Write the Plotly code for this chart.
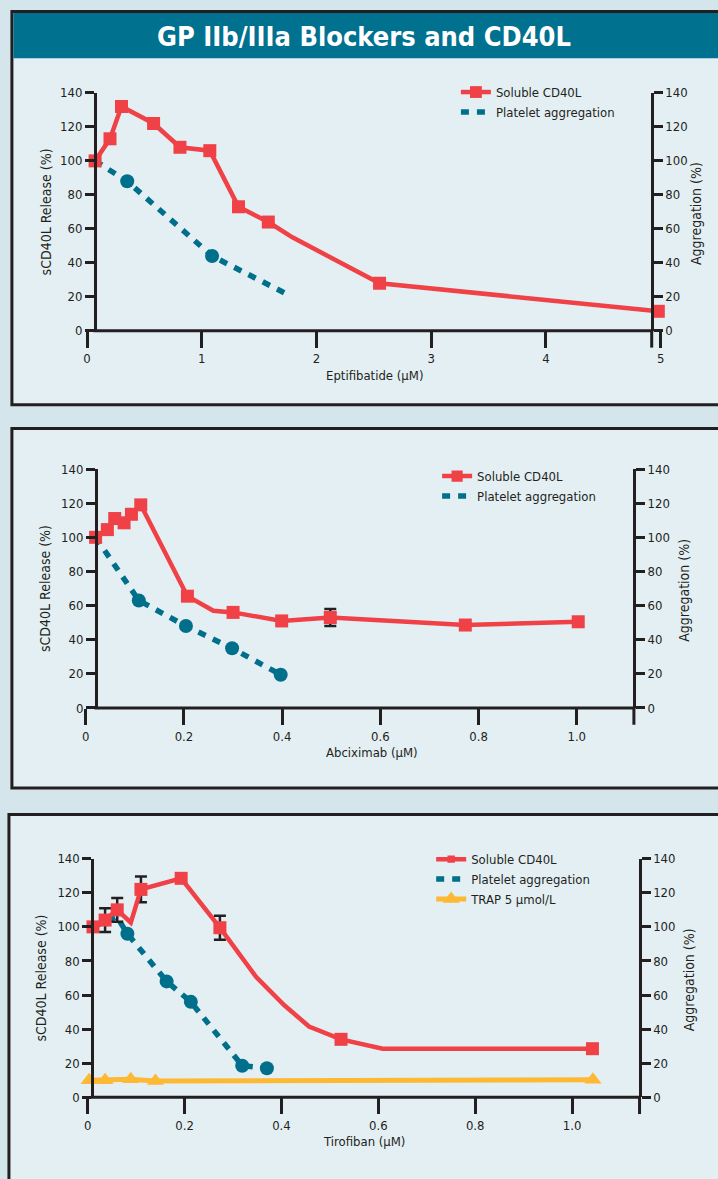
import plotly.graph_objects as go

# ---------------- data ----------------
# Eptifibatide panel
epti_cd40_x = [0.07, 0.20, 0.30, 0.58, 0.81, 1.07, 1.32, 1.58, 1.79, 2.55, 4.98]
epti_cd40_y = [100, 113, 132, 122, 108, 106, 73, 64, 55, 28, 11.5]
epti_cd40_marked = [1, 1, 1, 1, 1, 1, 1, 1, 0, 1, 1]
epti_agg_x = [0.07, 0.35, 1.09, 1.76]
epti_agg_y = [100, 88, 44, 21]
epti_agg_marked = [0, 1, 1, 0]

# Abciximab panel
abci_cd40_x = [0.02, 0.044, 0.059, 0.078, 0.093, 0.112, 0.207, 0.26, 0.30, 0.399, 0.498, 0.737, 0.773, 1.003]
abci_cd40_y = [100, 104.5, 111, 108.5, 113.5, 119, 65.5, 57, 56, 51, 53, 49, 48.6, 50.5]
abci_cd40_marked = [1, 1, 1, 1, 1, 1, 1, 0, 1, 1, 1, 0, 1, 1]
abci_err_x = [0.498]
abci_err_y = [53]
abci_err = [5]
abci_agg_x = [0.02, 0.108, 0.204, 0.298, 0.397]
abci_agg_y = [100, 63, 48, 35, 19.5]
abci_agg_marked = [0, 1, 1, 1, 1]

# Tirofiban panel
tiro_cd40_x = [0.011, 0.036, 0.061, 0.089, 0.110, 0.144, 0.193, 0.273, 0.348, 0.406, 0.457, 0.523, 0.609, 1.042]
tiro_cd40_y = [100, 104, 110, 102.5, 122, 124.5, 128.5, 99.5, 70.5, 54, 41.5, 34, 28.5, 28.5]
tiro_cd40_marked = [1, 1, 1, 0, 1, 0, 1, 1, 0, 0, 0, 1, 0, 1]
tiro_err_x = [0.036, 0.061, 0.110, 0.273]
tiro_err_y = [104, 110, 122, 99.5]
tiro_err = [7, 7, 7.5, 7]
tiro_agg_x = [0.011, 0.06, 0.082, 0.163, 0.213, 0.319, 0.370]
tiro_agg_y = [100, 106, 96, 68, 56, 18.5, 17]
tiro_agg_marked = [0, 0, 1, 1, 1, 1, 1]
trap_x = [0.003, 0.036, 0.089, 0.140, 1.043]
trap_y = [10, 10, 10.5, 9.5, 10.2]

y_ticks = [0, 20, 40, 60, 80, 100, 120, 140]
epti_ticks = [0, 1, 2, 3, 4, 5]
epti_ticktext = ["0", "1", "2", "3", "4", "5"]
frac_ticks = [0, 0.2, 0.4, 0.6, 0.8, 1.0]
frac_ticktext = ["0", "0.2", "0.4", "0.6", "0.8", "1.0"]

title_text = "GP IIb/IIIa Blockers and CD40L"
left_title = "sCD40L Release (%)"
right_title = "Aggregation (%)"
x_titles = ["Eptifibatide (µM)", "Abciximab (µM)", "Tirofiban (µM)"]
name_cd40 = "Soluble CD40L"
name_agg = "Platelet aggregation"
name_trap = "TRAP 5 µmol/L"

# ---------------- style ----------------
W, H = 718, 1179
FONT = "Liberation Sans Narrow, DejaVu Sans Condensed, sans-serif"
BG = "#d4e5eb"
PANEL = "#e4eff4"
INK = "#231f20"
TITLEBAR = "#00718f"
RED = "#ef4146"
TEAL = "#006f8b"
YELLOW = "#fdb933"


def fx(p):
    return p / W


def fy(p):
    return 1 - p / H


def sizes(flags, s):
    return [s if f else 0 for f in flags]


def pick(vals, flags):
    return [v for v, f in zip(vals, flags) if f]


panels = [
    dict(xd=(84, 664), xr=(0, 5), yt=87, yb=328, la=92, ra=655,
         ticks=epti_ticks, ticktext=epti_ticktext,
         ltx=42, rtx=700, xtx=375, leg=(457, 71)),
    dict(xd=(82.7, 637), xr=(0, (637 - 82.7) / 496.5), yt=468, yb=710, la=93, ra=637,
         ticks=frac_ticks, ticktext=frac_ticktext,
         ltx=41, rtx=688, xtx=372, leg=(438, 460)),
    dict(xd=(84.6, 642.7), xr=(0, (642.7 - 84.6) / 489.9), yt=862.7, yb=1104.3, la=89.3, ra=642.7,
         ticks=frac_ticks, ticktext=frac_ticktext,
         ltx=37, rtx=693, xtx=364, leg=(432, 848)),
]

fig = go.Figure()

tickfont = dict(family=FONT, size=13, color=INK)
layout = dict(
    width=W, height=H, autosize=False,
    margin=dict(l=0, r=0, t=0, b=0, pad=0),
    paper_bgcolor=BG, plot_bgcolor="rgba(0,0,0,0)",
    font=dict(family=FONT, color=INK),
    showlegend=True,
)

shapes = []
annotations = []

boxes = [(8, 4.5, 740, 403), (8, 427, 740, 791), (5, 818, 740, 1200)]
for (x0, y0, x1, y1) in boxes:
    shapes.append(dict(type="rect", xref="paper", yref="paper", layer="below",
                       x0=fx(x0), x1=fx(x1), y0=fy(y1), y1=fy(y0),
                       fillcolor=PANEL, line=dict(color=INK, width=3)))
shapes.append(dict(type="rect", xref="paper", yref="paper", layer="below",
                   x0=fx(9.5), x1=fx(740), y0=fy(52), y1=fy(6),
                   fillcolor=TITLEBAR, line=dict(width=0)))
annotations.append(dict(text="<b>" + title_text + "</b>", xref="paper", yref="paper",
                        x=fx(364), y=fy(30), showarrow=False, xanchor="center", yanchor="middle",
                        font=dict(family=FONT, size=27, color="white")))

for i, p in enumerate(panels):
    n = i + 1
    xa = "xaxis" if n == 1 else f"xaxis{n}"
    yl = 2 * n - 1
    yr = 2 * n
    yla = "yaxis" if yl == 1 else f"yaxis{yl}"
    ylid = "y" if yl == 1 else f"y{yl}"
    yra = f"yaxis{yr}"
    ydom = [fy(p["yb"]), fy(p["yt"])]

    layout[xa] = dict(domain=[fx(p["xd"][0]), fx(p["xd"][1])], range=list(p["xr"]),
                      anchor=ylid, showline=False, showgrid=False, zeroline=False,
                      ticks="outside", ticklen=16, tickwidth=2.5, tickcolor=INK,
                      tickvals=p["ticks"], ticktext=p["ticktext"], tickfont=tickfont,
                      fixedrange=True)
    layout[yla] = dict(domain=ydom, range=[0, 140], anchor="free", position=fx(p["la"]),
                       showline=True, linecolor=INK, linewidth=3, showgrid=False, zeroline=False,
                       ticks="outside", ticklen=9, tickwidth=2.5, tickcolor=INK,
                       tickvals=y_ticks, tickfont=tickfont, fixedrange=True)
    layout[yra] = dict(domain=ydom, range=[0, 140], anchor="free", position=fx(p["ra"]),
                       overlaying=ylid, side="right",
                       showline=True, linecolor=INK, linewidth=3, showgrid=False, zeroline=False,
                       ticks="outside", ticklen=9, tickwidth=2.5, tickcolor=INK,
                       tickvals=y_ticks, tickfont=tickfont, fixedrange=True)

    shapes.append(dict(type="line", xref="paper", yref="paper",
                       x0=fx(p["la"] - 1.5), x1=fx(p["ra"] + 1.5), y0=fy(p["yb"]), y1=fy(p["yb"]),
                       line=dict(color=INK, width=3)))
    shapes.append(dict(type="line", xref="paper", yref="paper",
                       x0=fx(p["ra"]), x1=fx(p["ra"]), y0=fy(p["yb"]), y1=fy(p["yb"] + 17),
                       line=dict(color=INK, width=3)))

    ymid = (p["yt"] + p["yb"]) / 2
    annotations.append(dict(text=left_title, xref="paper", yref="paper", x=fx(p["ltx"]),
                            y=fy(ymid), textangle=-90, showarrow=False,
                            xanchor="center", yanchor="middle",
                            font=dict(family=FONT, size=14, color=INK)))
    annotations.append(dict(text=right_title, xref="paper", yref="paper", x=fx(p["rtx"]),
                            y=fy(ymid + 2), textangle=-90, showarrow=False,
                            xanchor="center", yanchor="middle",
                            font=dict(family=FONT, size=14, color=INK)))
    annotations.append(dict(text=x_titles[i], xref="paper", yref="paper", x=fx(p["xtx"]),
                            y=fy(p["yb"] + 45), showarrow=False,
                            xanchor="center", yanchor="middle",
                            font=dict(family=FONT, size=13, color=INK)))

    lg = "legend" if n == 1 else f"legend{n}"
    lx, ly = p["leg"]
    layout[lg] = dict(x=fx(lx), y=fy(ly), xanchor="left", yanchor="top",
                      bgcolor="rgba(0,0,0,0)", borderwidth=0,
                      font=dict(family=FONT, size=13, color=INK), tracegroupgap=0,
                      itemwidth=30)


def add_panel(n, agg_x, agg_y, agg_marked, cd_x, cd_y, cd_marked, err=None, trap=None):
    xid = "x" if n == 1 else f"x{n}"
    yl = 2 * n - 1
    ylid = "y" if yl == 1 else f"y{yl}"
    yrid = f"y{2 * n}"
    lg = "legend" if n == 1 else f"legend{n}"
    # aggregation: dashed line (legend entry) + its measured points
    fig.add_trace(go.Scatter(x=agg_x, y=agg_y, xaxis=xid, yaxis=ylid, mode="lines",
                             name=name_agg, legend=lg, legendrank=2,
                             line=dict(color=TEAL, width=5.5, dash="8px,8px"),
                             cliponaxis=False))
    fig.add_trace(go.Scatter(x=pick(agg_x, agg_marked), y=pick(agg_y, agg_marked),
                             xaxis=xid, yaxis=ylid, mode="markers", showlegend=False,
                             name=name_agg,
                             marker=dict(color=TEAL, symbol="circle", size=14, opacity=1,
                                         line=dict(width=0)),
                             cliponaxis=False))
    if err is not None:
        ex, ey, ee = err
        fig.add_trace(go.Scatter(x=ex, y=ey, xaxis=xid, yaxis=yrid, mode="markers",
                                 showlegend=False, marker=dict(size=1, color="rgba(0,0,0,0)"),
                                 error_y=dict(type="data", array=ee, visible=True, color=INK,
                                              thickness=2.5, width=6),
                                 cliponaxis=False))
    if trap is not None:
        tx, ty = trap
        fig.add_trace(go.Scatter(x=tx, y=ty, xaxis=xid, yaxis=yrid, mode="lines+markers",
                                 name=name_trap, legend=lg, legendrank=3,
                                 line=dict(color=YELLOW, width=5),
                                 marker=dict(color=YELLOW, symbol="triangle-up", size=15, opacity=1),
                                 cliponaxis=False))
    fig.add_trace(go.Scatter(x=cd_x, y=cd_y, xaxis=xid, yaxis=yrid, mode="lines+markers",
                             name=name_cd40, legend=lg, legendrank=1,
                             line=dict(color=RED, width=4.5),
                             marker=dict(color=RED, symbol="square", size=sizes(cd_marked, 13),
                                         opacity=1, line=dict(width=0)),
                             cliponaxis=False))


add_panel(1, epti_agg_x, epti_agg_y, epti_agg_marked, epti_cd40_x, epti_cd40_y, epti_cd40_marked)
add_panel(2, abci_agg_x, abci_agg_y, abci_agg_marked, abci_cd40_x, abci_cd40_y, abci_cd40_marked,
          err=(abci_err_x, abci_err_y, abci_err))
add_panel(3, tiro_agg_x, tiro_agg_y, tiro_agg_marked, tiro_cd40_x, tiro_cd40_y, tiro_cd40_marked,
          err=(tiro_err_x, tiro_err_y, tiro_err), trap=(trap_x, trap_y))

layout["shapes"] = shapes
layout["annotations"] = annotations
fig.update_layout(**layout)

page_fix = (
    "var gd = document.getElementById('{plot_id}');"
    "var de = document.documentElement, b = document.body;"
    "de.style.margin='0'; de.style.padding='0'; de.style.overflow='hidden';"
    "b.style.margin='0'; b.style.padding='0'; b.style.overflow='hidden';"
    "if (gd && gd.parentElement) { gd.parentElement.style.fontSize='0';"
    " gd.parentElement.style.lineHeight='0'; }"
)

fig.write_html("out.html", config={"displayModeBar": False}, post_script=page_fix)
